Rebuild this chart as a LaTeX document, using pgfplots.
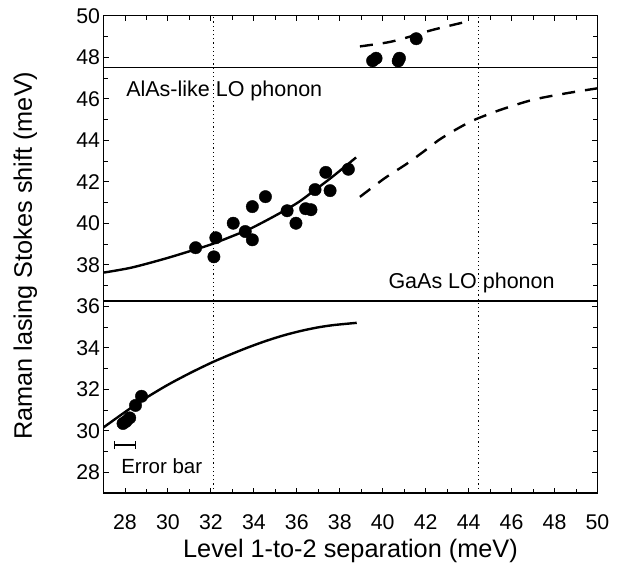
\documentclass[border=0pt]{standalone}
\usepackage{fontspec}
\setmainfont{Liberation Sans}
\usepackage{pgfplots}
\pgfplotsset{compat=1.18}
\begin{document}
\begin{tikzpicture}
\path[use as bounding box] (-103.5bp,-83bp) rectangle (516.5bp,493bp);
\begin{axis}[
  scale only axis,
  width=494bp, height=477.3bp,
  xmin=27, xmax=50, ymin=27, ymax=50,
  xtick={28,30,...,50}, ytick={28,30,...,50},
  minor tick num=1,
  tick align=inside,
  major tick length=5.5bp, minor tick length=4.5bp,
  axis line style={line width=1.4bp},
  every tick/.style={line width=0.9bp, black},
  /pgf/number format/assume math mode=true,
  ticklabel style={font=\fontsize{21.3bp}{25bp}\selectfont},
  xticklabel style={yshift=-18bp},
  xlabel={Level 1-to-2 separation (meV)},
  ylabel={Raman lasing Stokes shift (meV)},
  label style={font=\fontsize{25.3bp}{30bp}\selectfont},
  xlabel style={at={(axis description cs:0.5,-0.1224)}, anchor=center},
  ylabel style={at={(axis description cs:-0.158,0.497)}, anchor=center},
  clip=true,
]
% reference lines
\addplot[black, line width=1.3bp] coordinates {(27,47.5) (50,47.5)};
\addplot[black, line width=1.3bp] coordinates {(27,36.25) (50,36.25)};
\addplot[black, line width=0.9bp, dash pattern=on 1.2bp off 3bp] coordinates {(32.1,27) (32.1,50)};
\addplot[black, line width=0.9bp, dash pattern=on 1.2bp off 3bp] coordinates {(44.45,27) (44.45,50)};
% curves
\addplot[black, line width=2.4bp, smooth] coordinates {
(27,37.62) (28.3,37.86) (29.86,38.29) (31.26,38.73) (32.04,38.99) (32.98,39.37)
(33.76,39.70) (34.54,40.11) (35.32,40.55) (36.1,41.03) (36.88,41.63) (37.66,42.24) (38.76,43.17)};
\addplot[black, line width=2.4bp, smooth, dash pattern=on 13bp off 10bp] coordinates {
(38.94,41.27) (40.08,42.16) (41.1,42.85) (41.9,43.45) (42.6,44.0) (43.3,44.45)
(44.0,44.85) (44.5,45.08) (45.5,45.47) (47.0,45.95) (48.6,46.27) (50,46.5)};
\addplot[black, line width=2.4bp, smooth, dash pattern=on 13bp off 10bp] coordinates {
(38.94,48.52) (40.31,48.73) (41.3,49.0) (42.34,49.32) (44.14,49.77)};
\addplot[black, line width=2.4bp, smooth] coordinates {
(27.0,30.16) (28.0,30.90) (28.85,31.50) (29.94,32.18) (31.03,32.78) (32.11,33.32)
(33.04,33.73) (33.82,34.05) (34.6,34.34) (35.37,34.59) (36.15,34.80) (36.93,34.97)
(37.7,35.09) (38.79,35.20)};
% data points
\addplot[only marks, mark=*, mark size=6.2bp, black] coordinates {
(39.53,47.83) (39.69,47.95) (40.78,47.95) (40.72,47.82) (41.56,48.89)
(31.29,38.82) (32.23,39.30) (32.14,38.38) (33.04,40.0) (33.6,39.6) (33.93,39.2)
(33.93,40.80) (34.54,41.28) (35.55,40.6) (35.96,40.0) (36.41,40.7) (36.66,40.65)
(36.85,41.62) (37.35,42.45) (37.55,41.57) (38.4,42.6)
(27.91,30.35) (28.05,30.45) (28.22,30.62) (28.49,31.22) (28.77,31.66)};
% error bar
\addplot[black, line width=1.6bp, mark=none, error bars/.cd, x dir=both, x explicit,
  error bar style={line width=1.6bp},
  error mark options={rotate=90, mark size=4bp, line width=1.4bp}]
  coordinates {(28.0,29.31) +- (0.48,0)};
% annotations
\node[anchor=west, inner sep=0, font=\fontsize{21.5bp}{25bp}\selectfont] at (axis cs:28.05,46.37) {AlAs-like LO phonon};
\node[anchor=west, inner sep=0, font=\fontsize{21.5bp}{25bp}\selectfont] at (axis cs:40.26,37.13) {GaAs LO phonon};
\node[anchor=west, inner sep=0, font=\fontsize{20.5bp}{24bp}\selectfont] at (axis cs:27.82,28.31) {Error bar};
\end{axis}
\end{tikzpicture}
\end{document}
